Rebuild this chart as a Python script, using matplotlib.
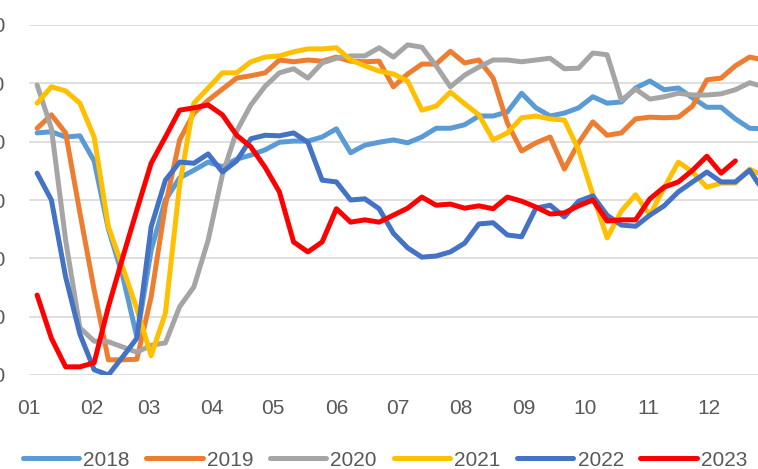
import numpy as np
import pandas as pd
import matplotlib
matplotlib.use("Agg")
import matplotlib.pyplot as plt

# weekly series, one value per week
y2018 = [61.5, 61.7, 60.8, 61.0, 56.7, 45.0, 37.0, 26.5, 41.4, 50.0, 53.8, 55.1, 56.5,
         55.7, 57.0, 57.7, 58.6, 59.9, 60.1, 60.1, 60.8, 62.2, 58.1, 59.4, 59.9, 60.3,
         59.8, 60.8, 62.3, 62.3, 62.9, 64.4, 64.4, 65.1, 68.3, 65.8, 64.4, 64.9, 65.8,
         67.7, 66.6, 66.8, 69.2, 70.4, 68.9, 69.2, 67.5, 65.9, 65.9, 63.9, 62.3, 62.2]
y2019 = [62.3, 64.6, 61.5, 47.8, 34.6, 22.6, 22.6, 22.7, 33.4, 49.1, 60.3, 64.9, 67.1,
         69.0, 70.9, 71.3, 71.8, 74.0, 73.7, 74.0, 73.8, 74.5, 73.8, 73.7, 73.8, 69.4,
         71.6, 73.3, 73.3, 75.5, 73.5, 74.0, 70.9, 63.2, 58.4, 59.8, 60.8, 55.3, 59.8,
         63.4, 61.1, 61.5, 63.9, 64.2, 64.1, 64.2, 66.1, 70.6, 70.9, 73.0, 74.5, 74.0]
y2020 = [69.7, 62.3, 43.1, 28.1, 25.8, 25.7, 24.8, 23.9, 25.1, 25.5, 31.7, 35.1, 43.1,
         54.3, 61.8, 66.3, 69.5, 71.8, 72.5, 70.9, 73.5, 74.3, 74.7, 74.7, 76.1, 74.5,
         76.6, 76.2, 73.0, 69.4, 71.4, 72.8, 74.0, 74.0, 73.7, 74.0, 74.3, 72.5, 72.6,
         75.2, 74.9, 67.1, 69.0, 67.3, 67.7, 68.3, 68.0, 68.0, 68.2, 68.9, 70.1, 69.4]
y2021 = [66.6, 69.4, 68.7, 66.6, 60.8, 45.4, 38.5, 31.3, 23.3, 30.6, 52.6, 66.6, 69.2,
         71.8, 71.8, 73.7, 74.5, 74.7, 75.4, 75.9, 75.9, 76.1, 74.0, 73.0, 72.1, 71.6,
         70.4, 65.4, 66.1, 68.5, 66.5, 64.6, 60.3, 61.5, 64.1, 64.4, 63.9, 63.7, 58.6,
         50.9, 43.5, 48.1, 50.9, 47.4, 52.1, 56.5, 54.8, 52.2, 52.9, 52.9, 55.3, 54.1]
y2022 = [54.6, 50.0, 36.8, 27.0, 20.9, 20.0, 23.1, 26.3, 45.4, 53.4, 56.5, 56.3, 57.9,
         54.8, 56.7, 60.5, 61.1, 61.0, 61.5, 59.9, 53.4, 53.1, 50.0, 50.2, 48.5, 44.3,
         41.8, 40.2, 40.4, 41.1, 42.6, 45.9, 46.1, 44.0, 43.7, 48.6, 49.1, 47.1, 49.8,
         50.7, 47.4, 45.7, 45.5, 47.4, 49.0, 51.4, 53.1, 54.8, 53.1, 53.1, 55.1, 51.4]
y2023 = [33.7, 26.3, 21.4, 21.4, 22.1, 31.7, 40.1, 48.3, 56.3, 60.8, 65.4, 65.8, 66.3,
         64.6, 61.1, 59.1, 55.6, 51.4, 42.8, 41.1, 42.8, 48.5, 46.2, 46.6, 46.2, 47.4,
         48.6, 50.5, 49.1, 49.3, 48.6, 49.0, 48.5, 50.5, 49.8, 48.8, 47.6, 47.8, 49.0,
         50.0, 46.4, 46.6, 46.6, 50.2, 52.2, 53.1, 55.1, 57.5, 54.6, 56.7]

years = ['2018', '2019', '2020', '2021', '2022', '2023']
series = [y2018, y2019, y2020, y2021, y2022, y2023]
colors = ['#5B9BD5', '#ED7D31', '#A5A5A5', '#FFC000', '#4472C4', '#FF0000']

month_labels = ['01', '02', '03', '04', '05', '06', '07', '08', '09', '10', '11', '12']
yticks = [20, 30, 40, 50, 60, 70, 80]

plt.rcParams['font.family'] = ['Liberation Sans', 'DejaVu Sans']

fig = plt.figure(figsize=(7.58, 4.69), dpi=100)
# axes runs a bit past the right edge, like the cropped original
ax = fig.add_axes([29 / 758, 1 - 375 / 469, 743 / 758, 350 / 469])

for name, vals, c in zip(years, series, colors):
    days = 4 + 7 * np.arange(len(vals))
    ax.plot(days, vals, color=c, lw=3.6, label=name,
            solid_joinstyle='round', solid_capstyle='round')

month_start = pd.date_range('2023-01-01', periods=12, freq='MS').dayofyear - 1
ax.set_xticks(month_start)
ax.set_xticklabels(month_labels)
ax.set_xlim(0, 365)
ax.set_ylim(20, 80)
ax.set_yticks(yticks)

ax.grid(True, axis='y', color='#D9D9D9', lw=1.2)
ax.set_axisbelow(True)
for s in ax.spines.values():
    s.set_visible(False)
ax.tick_params(axis='both', length=0, labelsize=15, labelcolor='#595959')
ax.tick_params(axis='x', pad=17)
ax.tick_params(axis='y', pad=17)

fig.legend(loc='center', bbox_to_anchor=(0.508, 0.019), ncol=6, frameon=False,
           fontsize=15, labelcolor='#595959', handlelength=2.7,
           handletextpad=0.2, columnspacing=0.8)

fig.savefig('out.png', dpi=100)
